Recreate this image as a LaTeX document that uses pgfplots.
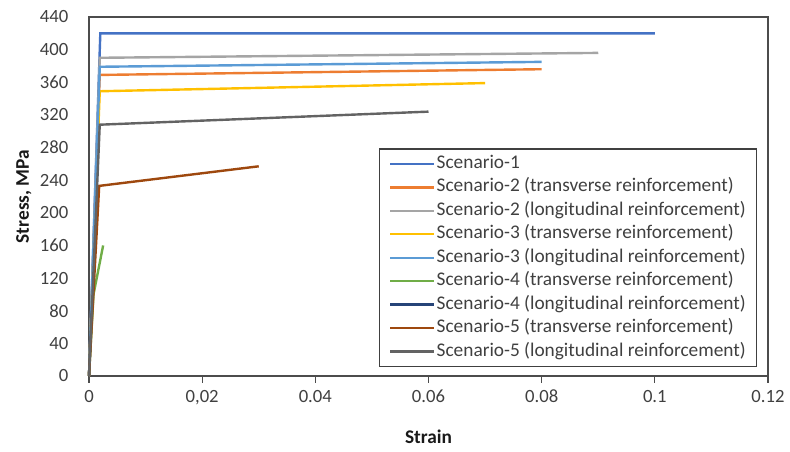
\documentclass[border=0pt]{standalone}
\usepackage{pgfplots}
\pgfplotsset{compat=1.18}
\usepackage{fontspec}
\setmainfont{Carlito}
\definecolor{c1}{HTML}{4472C4}
\definecolor{c2}{HTML}{ED7D31}
\definecolor{c3}{HTML}{A5A5A5}
\definecolor{c4}{HTML}{FFC000}
\definecolor{c5}{HTML}{5B9BD5}
\definecolor{c6}{HTML}{70AD47}
\definecolor{c7}{HTML}{264478}
\definecolor{c8}{HTML}{9E480E}
\definecolor{c9}{HTML}{636363}
\begin{document}
\begin{tikzpicture}
\begin{axis}[
  scale only axis,
  width=509.25pt, height=269.25pt,
  xmin=0, xmax=0.12, ymin=0, ymax=440,
  xtick={0,0.02,0.04,0.06,0.08,0.1,0.12},
  xticklabels={0,{0,02},0.04,0.06,0.08,0.1,0.12},
  ytick={0,40,...,440},
  /pgf/number format/assume math mode=true,
  tick label style={font=\fontsize{14pt}{16pt}\selectfont, text=black!75},
  xtick pos=bottom, ytick pos=left,
  xtick style={draw=black!70, line width=0.8pt},
  major tick length=5pt,
  tick align=outside,
  ytick style={draw=none},
  xticklabel style={yshift=-2pt},
  yticklabel style={xshift=-7pt},
  axis line style={draw=black!70, line width=1pt},
  xlabel={\textbf{Strain}}, ylabel={\textbf{Stress, MPa}},
  label style={font=\fontsize{14.5pt}{16pt}\selectfont, text=black!90},
  xlabel style={at={(axis description cs:0.5,-0.17)}, anchor=center},
  ylabel style={at={(axis description cs:-0.096,0.5)}, anchor=center},
  legend style={at={(0.984,0.025)}, anchor=south east, draw=black!75, line width=1pt,
     font=\fontsize{14.5pt}{16pt}\selectfont, text=black!75, row sep=1.5pt,
     inner xsep=7pt, inner ysep=3pt,
     nodes={inner sep=1pt, text height=10.5pt, text depth=3.6pt}},
  legend cell align=left,
  legend image code/.code={\draw[#1, line width=1.8pt] (0pt,0pt) -- (33pt,0pt);},
  every axis plot/.append style={line width=1.8pt},
  clip=false,
]
\addplot[c1] coordinates {(0,0) (0.002,420) (0.1,420)};
\addlegendentry{Scenario-1}
\addplot[c2] coordinates {(0,0) (0.0019,369) (0.08,376)};
\addlegendentry{Scenario-2 (transverse reinforcement)}
\addplot[c3] coordinates {(0,0) (0.0019,390) (0.09,396)};
\addlegendentry{Scenario-2 (longitudinal reinforcement)}
\addplot[c4] coordinates {(0,0) (0.0019,349) (0.07,359)};
\addlegendentry{Scenario-3 (transverse reinforcement)}
\addplot[c5] coordinates {(0,0) (0.0019,379) (0.08,385)};
\addlegendentry{Scenario-3 (longitudinal reinforcement)}
\addplot[c6] coordinates {(0,0) (0.0008,100) (0.0025,160)};
\addlegendentry{Scenario-4 (transverse reinforcement)}
\addplot[c7] coordinates {(0,0) (0.0005,80)};
\addlegendentry{Scenario-4 (longitudinal reinforcement)}
\addplot[c8] coordinates {(0,0) (0.0018,233) (0.03,257)};
\addlegendentry{Scenario-5 (transverse reinforcement)}
\addplot[c9] coordinates {(0,0) (0.0019,308) (0.06,324)};
\addlegendentry{Scenario-5 (longitudinal reinforcement)}
\end{axis}
\pgfresetboundingbox
\path ([xshift=-66.75pt,yshift=-57pt]current axis.south west) rectangle ([xshift=16.5pt,yshift=12.75pt]current axis.north east);
\end{tikzpicture}
\end{document}
